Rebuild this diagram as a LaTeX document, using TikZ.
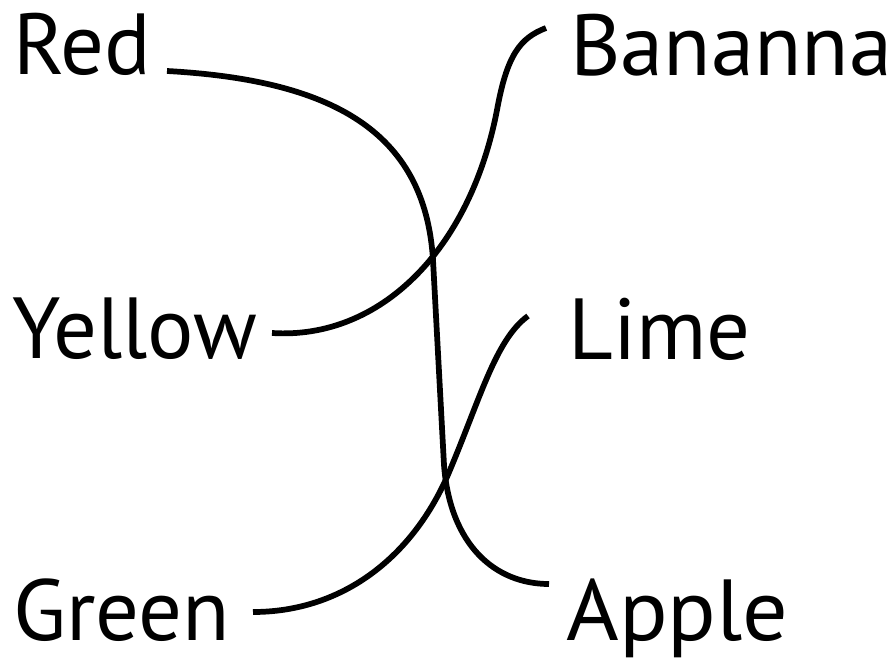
\documentclass[tikz,border=0pt]{standalone}
\usepackage{fontspec}
\setmainfont{PT Sans}
\begin{document}
\begin{tikzpicture}[x=0.75pt,y=-0.75pt,
  lbl/.style={inner sep=0pt,anchor=base west,font=\fontsize{65}{70}\selectfont},
  wire/.style={line width=4.3pt,line cap=butt,black}]
\useasboundingbox (0,0) rectangle (895,659);
\node[lbl] (red) at (13,75) {Red};
\node[lbl] (yellow) at (12,358) {Yellow};
\node[lbl] (green) at (13,640) {Green};
\node[lbl] (banana) at (570,76) {Bananna};
\node[lbl] (lime) at (568,359) {Lime};
\node[lbl,xscale=1.04] (apple) at (566,640) {Apple};
\coordinate (r0) at (167,71);
\coordinate (y0) at (272,333);
\coordinate (g0) at (253,612);
\coordinate (b0) at (546,28);
\coordinate (l0) at (528,316);
\coordinate (a0) at (549,584);
\draw[wire] (r0) .. controls (330,80) and (425,130) .. (433,260) -- (444,465) .. controls (450,545) and (495,584) .. (a0);
\draw[wire] (y0) .. controls (380,340) and (470,250) .. (497,110) .. controls (507,55) and (520,38) .. (b0);
\draw[wire] (g0) .. controls (340,612) and (410,560) .. (447,477) .. controls (480,400) and (495,340) .. (l0);
\end{tikzpicture}
\end{document}
